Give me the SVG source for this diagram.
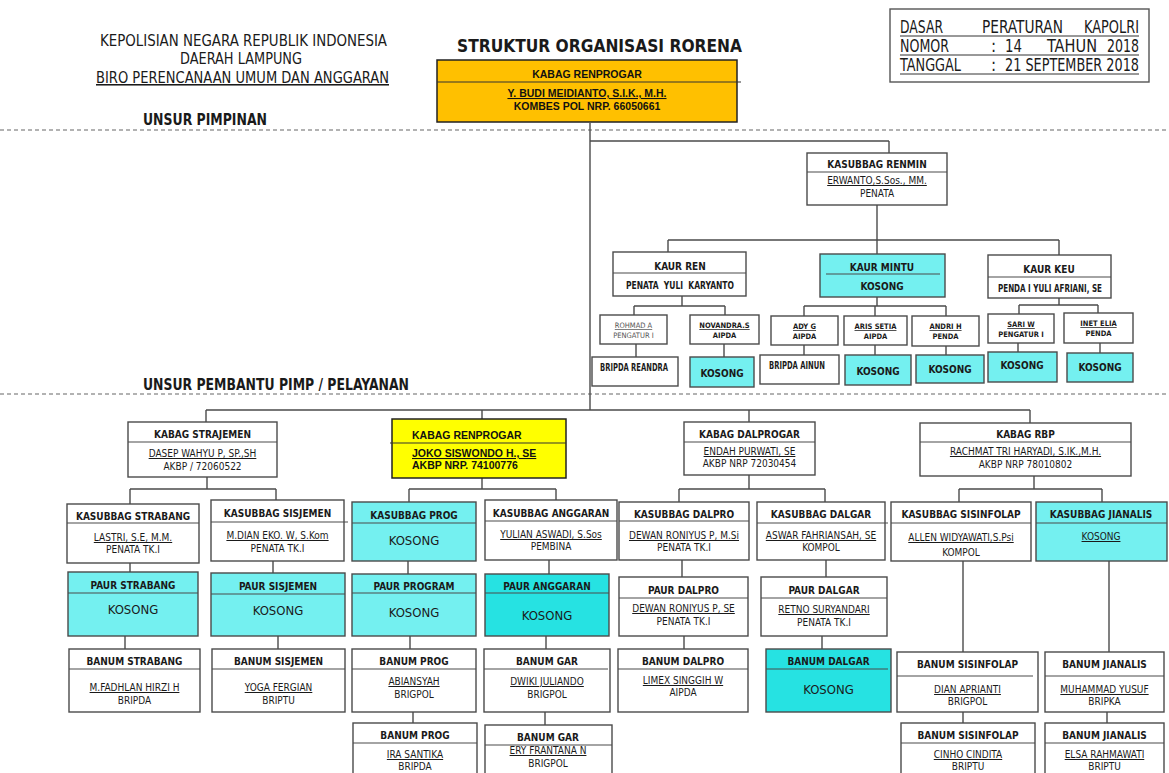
<svg xmlns="http://www.w3.org/2000/svg" width="1169" height="773" viewBox="0 0 1169 773">
<style>
.bx{fill:#fff;stroke:#4a4a4a;stroke-width:1.4}
.cy{fill:#74F0F0;stroke:#4a4a4a;stroke-width:1.4}
.cy2{fill:#26E2E2;stroke:#4a4a4a;stroke-width:1.4}
.dv{stroke:#4a4a4a;stroke-width:1.2}
.cn line{stroke:#4a4a4a;stroke-width:1.4}
.dash{stroke:#666;stroke-width:1.2;stroke-dasharray:4 3}
.t{font-family:"DejaVu Sans Condensed","DejaVu Sans",sans-serif;font-size:10px;fill:#1a1a1a;text-anchor:middle}
.tl{font-family:"DejaVu Sans Condensed","DejaVu Sans",sans-serif;fill:#1a1a1a}
.b{font-weight:bold}
.u{text-decoration:underline}
.k{font-size:13px}
.s{font-size:7.5px}
.g{fill:#555}
.a{font-family:"Liberation Sans",Arial,sans-serif;font-weight:bold;font-size:10.5px;fill:#111}
</style>
<rect width="1169" height="773" fill="#fff"/>

<g id="header">
<text class="tl" x="100" y="46" font-size="15.5" textLength="287" lengthAdjust="spacingAndGlyphs">KEPOLISIAN NEGARA REPUBLIK INDONESIA</text>
<text class="tl" x="180" y="64" font-size="15.5" textLength="122" lengthAdjust="spacingAndGlyphs">DAERAH LAMPUNG</text>
<text class="tl u" x="96" y="83" font-size="15.5" textLength="293" lengthAdjust="spacingAndGlyphs">BIRO PERENCANAAN UMUM DAN ANGGARAN</text>
<text class="tl b" x="143" y="125" font-size="15" textLength="124" lengthAdjust="spacingAndGlyphs">UNSUR PIMPINAN</text>
<text class="tl b" x="457" y="52" font-size="18" textLength="285" lengthAdjust="spacingAndGlyphs">STRUKTUR ORGANISASI RORENA</text>
<text class="tl b" x="143" y="390" font-size="15" textLength="266" lengthAdjust="spacingAndGlyphs">UNSUR PEMBANTU PIMP / PELAYANAN</text>
<line class="dash" x1="0" y1="130" x2="1169" y2="130"/>
<line class="dash" x1="0" y1="394" x2="1169" y2="394"/>
</g>

<g id="dasar">
<rect x="890" y="9" width="259" height="73" fill="#fff" stroke="#555" stroke-width="1.4"/>
<g class="tl" font-size="17">
<text x="900" y="33" textLength="43" lengthAdjust="spacingAndGlyphs">DASAR</text>
<text x="982" y="33" textLength="81" lengthAdjust="spacingAndGlyphs">PERATURAN</text>
<text x="1084" y="33" textLength="55" lengthAdjust="spacingAndGlyphs">KAPOLRI</text>
<text x="900" y="52" textLength="49" lengthAdjust="spacingAndGlyphs">NOMOR</text>
<text x="991" y="52">:</text>
<text x="1005" y="52" textLength="17" lengthAdjust="spacingAndGlyphs">14</text>
<text x="1047" y="52" textLength="50" lengthAdjust="spacingAndGlyphs">TAHUN</text>
<text x="1107" y="52" textLength="32" lengthAdjust="spacingAndGlyphs">2018</text>
<text x="900" y="71" textLength="61" lengthAdjust="spacingAndGlyphs">TANGGAL</text>
<text x="991" y="71">:</text>
<text x="1005" y="71" textLength="134" lengthAdjust="spacingAndGlyphs">21 SEPTEMBER 2018</text>
</g>
<g stroke="#333" stroke-width="1">
<line x1="900" y1="36" x2="1139" y2="36"/>
<line x1="900" y1="55" x2="1139" y2="55"/>
<line x1="900" y1="74" x2="1139" y2="74"/>
</g>
</g>

<g id="connectors" class="cn">
<line x1="590" y1="123" x2="590" y2="410"/>
<line x1="590" y1="141" x2="889" y2="141"/>
<line x1="889" y1="141" x2="889" y2="153"/>
<line x1="877" y1="205" x2="877" y2="240"/>
<line x1="668" y1="240" x2="1059" y2="240"/>
<line x1="668" y1="240" x2="668" y2="252"/>
<line x1="877" y1="240" x2="877" y2="254"/>
<line x1="1059" y1="240" x2="1059" y2="255"/>
<line x1="682" y1="296" x2="682" y2="306"/>
<line x1="634" y1="306" x2="725" y2="306"/>
<line x1="634" y1="306" x2="634" y2="315"/>
<line x1="725" y1="306" x2="725" y2="315"/>
<line x1="877" y1="297" x2="877" y2="306"/>
<line x1="804" y1="306" x2="946" y2="306"/>
<line x1="804" y1="306" x2="804" y2="316"/>
<line x1="875" y1="306" x2="875" y2="316"/>
<line x1="946" y1="306" x2="946" y2="316"/>
<line x1="1059" y1="298" x2="1059" y2="305"/>
<line x1="1019" y1="305" x2="1098" y2="305"/>
<line x1="1019" y1="305" x2="1019" y2="314"/>
<line x1="1098" y1="305" x2="1098" y2="313"/>
<line x1="636" y1="344" x2="636" y2="357"/>
<line x1="724" y1="344" x2="724" y2="357"/>
<line x1="804" y1="345" x2="804" y2="355"/>
<line x1="875" y1="345" x2="875" y2="355"/>
<line x1="946" y1="346" x2="946" y2="355"/>
<line x1="1018" y1="343" x2="1018" y2="352"/>
<line x1="1100" y1="343" x2="1100" y2="353"/>
<line x1="206" y1="410" x2="1030" y2="410"/>
<line x1="206" y1="410" x2="206" y2="422"/>
<line x1="482" y1="410" x2="482" y2="419"/>
<line x1="749" y1="410" x2="749" y2="422"/>
<line x1="1030" y1="410" x2="1030" y2="423"/>
<line x1="207" y1="477" x2="207" y2="489"/>
<line x1="130" y1="489" x2="276" y2="489"/>
<line x1="130" y1="489" x2="130" y2="504"/>
<line x1="276" y1="489" x2="276" y2="500"/>
<line x1="482" y1="478" x2="482" y2="489"/>
<line x1="409" y1="489" x2="556" y2="489"/>
<line x1="409" y1="489" x2="409" y2="502"/>
<line x1="556" y1="489" x2="556" y2="500"/>
<line x1="749" y1="475" x2="749" y2="489"/>
<line x1="679" y1="489" x2="825" y2="489"/>
<line x1="679" y1="489" x2="679" y2="502"/>
<line x1="825" y1="489" x2="825" y2="502"/>
<line x1="1034" y1="476" x2="1034" y2="489"/>
<line x1="959" y1="489" x2="1102" y2="489"/>
<line x1="959" y1="489" x2="959" y2="502"/>
<line x1="1102" y1="489" x2="1102" y2="502"/>
<line x1="130" y1="563" x2="130" y2="572"/>
<line x1="273" y1="561" x2="273" y2="573"/>
<line x1="408" y1="561" x2="408" y2="574"/>
<line x1="549" y1="560" x2="549" y2="574"/>
<line x1="682" y1="560" x2="682" y2="577"/>
<line x1="826" y1="560" x2="826" y2="577"/>
<line x1="963" y1="561" x2="963" y2="652"/>
<line x1="1109" y1="561" x2="1109" y2="652"/>
<line x1="125" y1="636" x2="125" y2="649"/>
<line x1="278" y1="636" x2="278" y2="649"/>
<line x1="410" y1="636" x2="410" y2="649"/>
<line x1="546" y1="636" x2="546" y2="649"/>
<line x1="684" y1="636" x2="684" y2="649"/>
<line x1="822" y1="636" x2="822" y2="649"/>
<line x1="413" y1="712" x2="413" y2="723"/>
<line x1="545" y1="712" x2="545" y2="725"/>
<line x1="963" y1="712" x2="963" y2="723"/>
<line x1="1107" y1="712" x2="1107" y2="723"/>
</g>

<g id="kabag-top">
<rect x="437" y="60" width="300" height="62" fill="#FFC000" stroke="#222" stroke-width="1.5"/>
<line x1="437" y1="82" x2="741" y2="82" stroke="#333" stroke-width="1.2"/>
<text class="a" x="587" y="78" text-anchor="middle">KABAG RENPROGAR</text>
<text class="a u" x="587" y="97" text-anchor="middle">Y. BUDI MEIDIANTO, S.I.K., M.H.</text>
<text class="a" x="587" y="110" text-anchor="middle">KOMBES POL NRP. 66050661</text>
</g>

<g id="renmin">
<rect class="bx" x="807" y="153" width="140" height="52"/>
<line class="dv" x1="807" y1="172" x2="947" y2="172"/>
<text class="t b" x="877" y="168">KASUBBAG RENMIN</text>
<text class="t u" x="877" y="184" font-size="9">ERWANTO,S.Sos., MM.</text>
<text class="t" x="877" y="197" font-size="9">PENATA</text>
</g>

<g id="kaur-ren">
<rect class="bx" x="613" y="252" width="133" height="44"/>
<line class="dv" x1="613" y1="273" x2="746" y2="273"/>
<text class="t b" x="680" y="270" font-size="10.5">KAUR REN</text>
<text class="t b" x="680" y="289" font-size="8.5" textLength="108" lengthAdjust="spacingAndGlyphs" word-spacing="3">PENATA YULI KARYANTO</text>
</g>
<g id="kaur-mintu">
<rect class="cy" x="820" y="254" width="125" height="43"/>
<line class="dv" x1="826" y1="274" x2="940" y2="274"/>
<text class="t b" x="882" y="271" font-size="10.5">KAUR MINTU</text>
<text class="t b" x="882" y="290" font-size="8.5">KOSONG</text>
</g>
<g id="kaur-keu">
<rect class="bx" x="988" y="255" width="123" height="43"/>
<line class="dv" x1="988" y1="277" x2="1111" y2="277"/>
<text class="t b" x="1049" y="273" font-size="10.5">KAUR KEU</text>
<text class="t b" x="1050" y="292" font-size="8.5" textLength="104" lengthAdjust="spacingAndGlyphs">PENDA I YULI AFRIANI, SE</text>
</g>

<g id="rohmad">
<rect class="bx" x="600" y="315" width="67" height="29"/>
<text class="t s u g" x="633.5" y="328">ROHMAD A</text>
<text class="t s g" x="633.5" y="338">PENGATUR I</text>
</g>
<g id="novandra">
<rect class="bx" x="690" y="315" width="69" height="29"/>
<text class="t s b u" x="724.5" y="328">NOVANDRA.S</text>
<text class="t s b" x="724.5" y="338">AIPDA</text>
</g>
<g id="adyg">
<rect class="bx" x="771" y="316" width="67" height="29"/>
<text class="t s b u" x="804.5" y="329">ADY G</text>
<text class="t s b" x="804.5" y="339">AIPDA</text>
</g>
<g id="aris">
<rect class="bx" x="844" y="316" width="63" height="29"/>
<text class="t s b u" x="875.5" y="329">ARIS SETIA</text>
<text class="t s b" x="875.5" y="339">AIPDA</text>
</g>
<g id="andri">
<rect class="bx" x="912" y="316" width="67" height="30"/>
<text class="t s b u" x="945.5" y="329">ANDRI H</text>
<text class="t s b" x="945.5" y="339">PENDA</text>
</g>
<g id="sari">
<rect class="bx" x="988" y="314" width="66" height="29"/>
<text class="t s b u" x="1021" y="327">SARI W</text>
<text class="t s b" x="1021" y="337">PENGATUR I</text>
</g>
<g id="inet">
<rect class="bx" x="1064" y="313" width="69" height="30"/>
<text class="t s b u" x="1098.5" y="326">INET ELIA</text>
<text class="t s b" x="1098.5" y="336">PENDA</text>
</g>

<g id="bripda-reandra">
<rect class="bx" x="592" y="357" width="86" height="29"/>
<text class="t b" x="634" y="371" font-size="8" textLength="68" lengthAdjust="spacingAndGlyphs">BRIPDA REANDRA</text>
</g>
<g id="kosong-1">
<rect class="cy" x="690" y="357" width="64" height="30"/>
<text class="t b" x="722" y="377" font-size="11">KOSONG</text>
</g>
<g id="bripda-ainun">
<rect class="bx" x="760" y="355" width="79" height="29"/>
<text class="t b" x="797" y="369" font-size="8" textLength="56" lengthAdjust="spacingAndGlyphs">BRIPDA AINUN</text>
</g>
<g id="kosong-2">
<rect class="cy" x="845" y="355" width="66" height="30"/>
<text class="t b" x="878" y="375" font-size="11">KOSONG</text>
</g>
<g id="kosong-3">
<rect class="cy" x="916" y="355" width="68" height="28"/>
<text class="t b" x="950" y="373" font-size="11">KOSONG</text>
</g>
<g id="kosong-4">
<rect class="cy" x="988" y="352" width="69" height="30"/>
<text class="t b" x="1022" y="369" font-size="11">KOSONG</text>
</g>
<g id="kosong-5">
<rect class="cy" x="1067" y="353" width="66" height="29"/>
<text class="t b" x="1100" y="371" font-size="11">KOSONG</text>
</g>

<g id="kabag-strajemen">
<rect class="bx" x="128" y="422" width="149" height="55"/>
<line class="dv" x1="128" y1="442" x2="277" y2="442"/>
<text class="t b" x="202.5" y="438">KABAG STRAJEMEN</text>
<text class="t u" x="202.5" y="457">DASEP WAHYU P, SP.,SH</text>
<text class="t" x="202.5" y="470">AKBP / 72060522</text>
</g>
<g id="kabag-renprogar">
<rect x="392" y="419" width="174" height="59" fill="#FFFF00" stroke="#222" stroke-width="1.5"/>
<line x1="390" y1="443" x2="566" y2="443" stroke="#333" stroke-width="1.2"/>
<text class="a" x="412" y="439">KABAG RENPROGAR</text>
<text class="a u" x="412" y="457">JOKO SISWONDO H., SE</text>
<text class="a" x="412" y="469">AKBP NRP. 74100776</text>
</g>
<g id="kabag-dalprogar">
<rect class="bx" x="684" y="422" width="131" height="53"/>
<line class="dv" x1="684" y1="442" x2="815" y2="442"/>
<text class="t b" x="749.5" y="438">KABAG DALPROGAR</text>
<text class="t u" x="749.5" y="455">ENDAH PURWATI, SE</text>
<text class="t" x="749.5" y="467">AKBP  NRP 72030454</text>
</g>
<g id="kabag-rbp">
<rect class="bx" x="920" y="423" width="211" height="53"/>
<line class="dv" x1="920" y1="442" x2="1131" y2="442"/>
<text class="t b" x="1025.5" y="438">KABAG RBP</text>
<text class="t u" x="1025.5" y="455">RACHMAT TRI HARYADI, S.IK.,M.H.</text>
<text class="t" x="1025.5" y="468">AKBP  NRP 78010802</text>
</g>

<g id="kasubbag-strabang">
<rect class="bx" x="67" y="504" width="132" height="59"/>
<line class="dv" x1="67" y1="523" x2="199" y2="523"/>
<text class="t b" x="133" y="520">KASUBBAG STRABANG</text>
<text class="t u" x="133" y="541">LASTRI, S.E, M.M.</text>
<text class="t" x="133" y="553">PENATA TK.I</text>
</g>
<g id="kasubbag-sisjemen">
<rect class="bx" x="211" y="500" width="133" height="61"/>
<line class="dv" x1="211" y1="522" x2="348" y2="522"/>
<text class="t b" x="277.5" y="517">KASUBBAG SISJEMEN</text>
<text class="t u" x="277.5" y="539">M.DIAN EKO. W, S.Kom</text>
<text class="t" x="277.5" y="552">PENATA TK.I</text>
</g>
<g id="kasubbag-prog">
<rect class="cy" x="352" y="502" width="124" height="59"/>
<line class="dv" x1="352" y1="523" x2="476" y2="523"/>
<text class="t b" x="414" y="519">KASUBBAG PROG</text>
<text class="t k" x="414" y="545">KOSONG</text>
</g>
<g id="kasubbag-anggaran">
<rect class="bx" x="485" y="500" width="132" height="60"/>
<line class="dv" x1="485" y1="521" x2="617" y2="521"/>
<text class="t b" x="551" y="517">KASUBBAG ANGGARAN</text>
<text class="t u" x="551" y="538">YULIAN ASWADI, S.Sos</text>
<text class="t" x="551" y="550">PEMBINA</text>
</g>
<g id="kasubbag-dalpro">
<rect class="bx" x="619" y="502" width="130" height="58"/>
<line class="dv" x1="619" y1="521" x2="749" y2="521"/>
<text class="t b" x="684" y="518">KASUBBAG DALPRO</text>
<text class="t u" x="684" y="539">DEWAN RONIYUS P, M.Si</text>
<text class="t" x="684" y="551">PENATA TK.I</text>
</g>
<g id="kasubbag-dalgar">
<rect class="bx" x="757" y="502" width="128" height="58"/>
<line class="dv" x1="757" y1="523" x2="888" y2="523"/>
<text class="t b" x="821" y="518">KASUBBAG DALGAR</text>
<text class="t u" x="821" y="539">ASWAR FAHRIANSAH, SE</text>
<text class="t" x="821" y="551">KOMPOL</text>
</g>
<g id="kasubbag-sisinfolap">
<rect class="bx" x="891" y="502" width="140" height="59"/>
<line class="dv" x1="891" y1="523" x2="1031" y2="523"/>
<text class="t b" x="961" y="518">KASUBBAG SISINFOLAP</text>
<text class="t u" x="961" y="541" font-size="12">ALLEN WIDYAWATI,S.Psi</text>
<text class="t" x="961" y="556" font-size="12">KOMPOL</text>
</g>
<g id="kasubbag-jianalis">
<rect class="cy" x="1036" y="502" width="131" height="59"/>
<line class="dv" x1="1036" y1="523" x2="1167" y2="523"/>
<text class="t b" x="1101" y="518">KASUBBAG JIANALIS</text>
<text class="t u" x="1101" y="540" font-size="12">KOSONG</text>
</g>

<g id="paur-strabang">
<rect class="cy" x="68" y="572" width="130" height="64"/>
<line class="dv" x1="68" y1="593" x2="198" y2="593"/>
<text class="t b" x="133" y="589">PAUR STRABANG</text>
<text class="t k" x="133" y="614">KOSONG</text>
</g>
<g id="paur-sisjemen">
<rect class="cy" x="211" y="573" width="134" height="63"/>
<line class="dv" x1="211" y1="594" x2="345" y2="594"/>
<text class="t b" x="278" y="590">PAUR SISJEMEN</text>
<text class="t k" x="278" y="615">KOSONG</text>
</g>
<g id="paur-program">
<rect class="cy" x="352" y="574" width="124" height="62"/>
<line class="dv" x1="352" y1="593" x2="476" y2="593"/>
<text class="t b" x="414" y="590">PAUR PROGRAM</text>
<text class="t k" x="414" y="617">KOSONG</text>
</g>
<g id="paur-anggaran">
<rect class="cy2" x="485" y="574" width="124" height="62"/>
<line class="dv" x1="485" y1="593" x2="609" y2="593"/>
<text class="t b" x="547" y="590">PAUR ANGGARAN</text>
<text class="t k" x="547" y="620">KOSONG</text>
</g>
<g id="paur-dalpro">
<rect class="bx" x="619" y="577" width="129" height="59"/>
<line class="dv" x1="619" y1="598" x2="748" y2="598"/>
<text class="t b" x="683.5" y="594">PAUR DALPRO</text>
<text class="t u" x="683.5" y="612">DEWAN RONIYUS P, SE</text>
<text class="t" x="683.5" y="625">PENATA TK.I</text>
</g>
<g id="paur-dalgar">
<rect class="bx" x="761" y="577" width="126" height="59"/>
<line class="dv" x1="761" y1="598" x2="887" y2="598"/>
<text class="t b" x="824" y="594">PAUR DALGAR</text>
<text class="t u" x="824" y="613">RETNO SURYANDARI</text>
<text class="t" x="824" y="626">PENATA TK.I</text>
</g>

<g id="banum-strabang">
<rect class="bx" x="69" y="649" width="131" height="63"/>
<line class="dv" x1="69" y1="669" x2="200" y2="669"/>
<text class="t b" x="134.5" y="665">BANUM STRABANG</text>
<text class="t u" x="134.5" y="691">M.FADHLAN HIRZI H</text>
<text class="t" x="134.5" y="704">BRIPDA</text>
</g>
<g id="banum-sisjemen">
<rect class="bx" x="212" y="649" width="133" height="63"/>
<line class="dv" x1="212" y1="669" x2="345" y2="669"/>
<text class="t b" x="278.5" y="665">BANUM SISJEMEN</text>
<text class="t u" x="278.5" y="691">YOGA FERGIAN</text>
<text class="t" x="278.5" y="704">BRIPTU</text>
</g>
<g id="banum-prog-1">
<rect class="bx" x="352" y="649" width="124" height="63"/>
<line class="dv" x1="352" y1="669" x2="476" y2="669"/>
<text class="t b" x="414" y="665">BANUM PROG</text>
<text class="t u" x="414" y="685">ABIANSYAH</text>
<text class="t" x="414" y="698">BRIGPOL</text>
</g>
<g id="banum-gar-1">
<rect class="bx" x="484" y="649" width="126" height="63"/>
<line class="dv" x1="484" y1="669" x2="608" y2="669"/>
<text class="t b" x="547" y="665">BANUM GAR</text>
<text class="t u" x="547" y="685">DWIKI JULIANDO</text>
<text class="t" x="547" y="698">BRIGPOL</text>
</g>
<g id="banum-prog-2">
<rect class="bx" x="353" y="723" width="124" height="60"/>
<line class="dv" x1="353" y1="743" x2="477" y2="743"/>
<text class="t b" x="415" y="739">BANUM PROG</text>
<text class="t u" x="415" y="758">IRA SANTIKA</text>
<text class="t" x="415" y="770">BRIPDA</text>
</g>
<g id="banum-gar-2">
<rect class="bx" x="485" y="725" width="127" height="60"/>
<line class="dv" x1="485" y1="745" x2="612" y2="745"/>
<text class="t b" x="548" y="741">BANUM GAR</text>
<text class="t u" x="548" y="754">ERY FRANTANA N</text>
<text class="t" x="548" y="767">BRIGPOL</text>
</g>
<g id="banum-dalpro">
<rect class="bx" x="618" y="649" width="130" height="63"/>
<line class="dv" x1="618" y1="669" x2="748" y2="669"/>
<text class="t b" x="683" y="665">BANUM DALPRO</text>
<text class="t u" x="683" y="684">LIMEX SINGGIH W</text>
<text class="t" x="683" y="696">AIPDA</text>
</g>
<g id="banum-dalgar">
<rect class="cy2" x="766" y="649" width="125" height="63"/>
<line class="dv" x1="766" y1="669" x2="888" y2="669"/>
<text class="t b" x="828.5" y="665" fill="#0d3a4a">BANUM DALGAR</text>
<text class="t k" x="828.5" y="694">KOSONG</text>
</g>
<g id="banum-sisinfolap-1">
<rect class="bx" x="897" y="652" width="141" height="60"/>
<line class="dv" x1="897" y1="676" x2="1033" y2="676"/>
<text class="t b" x="967.5" y="668">BANUM SISINFOLAP</text>
<text class="t u" x="967.5" y="693">DIAN APRIANTI</text>
<text class="t" x="967.5" y="705">BRIGPOL</text>
</g>
<g id="banum-jianalis-1">
<rect class="bx" x="1045" y="652" width="119" height="60"/>
<line class="dv" x1="1045" y1="676" x2="1164" y2="676"/>
<text class="t b" x="1104.5" y="668">BANUM JIANALIS</text>
<text class="t u" x="1104.5" y="693">MUHAMMAD YUSUF</text>
<text class="t" x="1104.5" y="705">BRIPKA</text>
</g>
<g id="banum-sisinfolap-2">
<rect class="bx" x="901" y="723" width="134" height="60"/>
<line class="dv" x1="901" y1="743" x2="1035" y2="743"/>
<text class="t b" x="968" y="739">BANUM SISINFOLAP</text>
<text class="t u" x="968" y="758">CINHO CINDITA</text>
<text class="t" x="968" y="770">BRIPTU</text>
</g>
<g id="banum-jianalis-2">
<rect class="bx" x="1045" y="723" width="119" height="60"/>
<line class="dv" x1="1045" y1="743" x2="1164" y2="743"/>
<text class="t b" x="1104.5" y="739">BANUM JIANALIS</text>
<text class="t u" x="1104.5" y="758">ELSA RAHMAWATI</text>
<text class="t" x="1104.5" y="770">BRIPTU</text>
</g>
</svg>
